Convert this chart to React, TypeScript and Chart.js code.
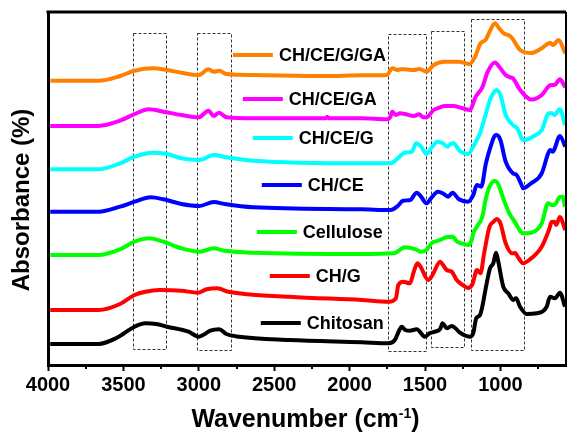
import React, { useEffect, useRef } from 'react';
import { Chart, registerables } from 'chart.js';

Chart.register(...registerables);

const FONT = "Arial, 'Liberation Sans', sans-serif";

// Wavenumber (cm-1) and absorbance (arbitrary, offset) for each spectrum
const chitosanWn = [3985, 3665, 3546, 3426, 3354, 3283, 3211, 3068, 3001, 2972, 2924, 2865, 2817, 2733, 2399, 1920, 1741, 1700, 1670, 1655, 1630, 1600, 1555, 1500, 1470, 1434, 1400, 1383, 1356, 1323, 1300, 1268, 1202, 1180, 1160, 1135, 1091, 1069, 1047, 1029, 1014, 981, 948, 914, 896, 870, 825, 759, 693, 671, 638, 605, 572];
const chitosanAbs = [21, 21, 27, 38.3, 41.7, 41, 38.3, 33.3, 28.3, 30, 34.3, 35.7, 31, 28.3, 25, 22.7, 21.7, 25, 35, 38.3, 35, 34.3, 35.7, 28.3, 31.7, 33.3, 36, 41.7, 36.7, 39, 37, 32.3, 28.3, 32, 46.7, 50, 81.7, 96.7, 101.7, 112.3, 103.3, 78.3, 71.7, 65, 66.7, 58.3, 51, 51.7, 58.3, 68.3, 66.7, 72.3, 58.3];

const chgWn = [3985, 3665, 3522, 3426, 3354, 3259, 3116, 3008, 2948, 2877, 2805, 2399, 1920, 1741, 1693, 1677, 1644, 1600, 1575, 1550, 1530, 1478, 1450, 1400, 1380, 1356, 1323, 1290, 1250, 1215, 1185, 1156, 1132, 1108, 1072, 1045, 1025, 1000, 965, 922, 903, 880, 850, 809, 726, 678, 660, 642, 630, 606, 570];
const chgAbs = [55, 55, 61, 70, 73.3, 75, 74.3, 72.3, 75.7, 76.7, 73.3, 68.3, 65, 63.3, 66.7, 80, 83.3, 81.7, 93, 101.7, 98.3, 85, 90, 103.3, 100, 95, 93.3, 85, 80, 77, 81, 95, 91.7, 111.7, 138.3, 143.3, 146, 141.7, 121.7, 111.7, 112, 107, 101.7, 105, 118.3, 135, 143, 143.3, 140, 148, 135];

const celluloseWn = [3985, 3665, 3522, 3426, 3331, 3235, 3116, 2996, 2901, 2829, 2638, 1920, 1705, 1634, 1562, 1525, 1490, 1455, 1420, 1390, 1360, 1315, 1287, 1240, 1215, 1190, 1180, 1156, 1120, 1096, 1072, 1041, 1025, 1012, 977, 941, 905, 857, 848, 797, 726, 684, 660, 642, 606, 587, 572];
const celluloseAbs = [110, 110, 115.7, 123.3, 126.7, 123.3, 116.7, 113.3, 116.7, 114.3, 112.3, 111, 111.7, 117.7, 115.7, 113.3, 115, 122, 124, 125.7, 127.7, 128.3, 123.3, 121, 120, 125, 131.7, 138.3, 148.3, 166.7, 178.3, 184, 183.3, 180, 165, 151.7, 143.3, 132, 131.7, 132.3, 141.7, 161.7, 160, 160, 168, 168.3, 158.3];

const chceWn = [3985, 3665, 3522, 3426, 3319, 3235, 3116, 2996, 2901, 2829, 2638, 1920, 1729, 1681, 1646, 1598, 1555, 1526, 1490, 1455, 1414, 1382, 1347, 1318, 1275, 1215, 1180, 1156, 1127, 1096, 1065, 1036, 1025, 1000, 965, 917, 893, 857, 850, 797, 726, 683, 670, 654, 605, 570];
const chceAbs = [153.3, 153.3, 158.3, 163.3, 167.7, 165.7, 161, 159, 163, 161, 157.7, 155.7, 155, 159, 164.3, 165, 172.3, 168.3, 161.7, 167.7, 173.3, 171.7, 168.3, 172.3, 165.7, 163.3, 170, 180, 178.3, 201.7, 218.3, 229.5, 230, 225, 203.3, 191.7, 190, 179, 176.7, 181.7, 191.7, 211.7, 215, 213.3, 229, 218.3];

const chcegWn = [3985, 3665, 3522, 3426, 3307, 3211, 3116, 2996, 2901, 2817, 2638, 1920, 1729, 1681, 1634, 1586, 1560, 1526, 1490, 1455, 1418, 1382, 1350, 1330, 1311, 1270, 1215, 1180, 1157, 1135, 1096, 1065, 1036, 1025, 1000, 965, 917, 888, 850, 843, 785, 726, 678, 660, 642, 605, 572];
const chcegAbs = [195.7, 195.7, 201.7, 208.3, 212.3, 211, 206.7, 205, 210, 207.7, 204.3, 201.7, 201.7, 206.7, 212.3, 213.3, 221.7, 218.3, 211, 217.7, 223.3, 221.7, 218.3, 221, 221.7, 214.3, 211, 218.3, 225, 231.7, 251.7, 266.7, 274, 275, 270, 250, 240, 236.7, 225, 225, 228.3, 235, 251.7, 251.7, 250, 255.7, 240];

const chcegaWn = [3985, 3665, 3522, 3426, 3331, 3235, 3116, 3001, 2936, 2901, 2865, 2817, 2638, 2160, 2148, 2135, 1920, 1753, 1729, 1717, 1693, 1666, 1634, 1574, 1538, 1511, 1490, 1443, 1400, 1370, 1313, 1251, 1202, 1180, 1169, 1156, 1120, 1084, 1036, 1008, 965, 936, 917, 869, 793, 726, 678, 660, 642, 605, 570];
const chcegaAbs = [239, 239, 244.3, 251, 255.7, 253.3, 250, 247.7, 254.3, 249, 252.3, 247.7, 246.7, 246.7, 248.3, 246.7, 246.7, 245.7, 248.3, 253.3, 250, 251.7, 251, 249, 250.7, 247.7, 247.7, 255, 257.7, 259, 259, 256.7, 255, 261.7, 266.7, 270, 277.7, 293.3, 302.5, 298.3, 290, 287.7, 286.7, 275, 265.5, 270, 279, 280, 280, 285.7, 277.7];

const chceggaWn = [3985, 3665, 3522, 3426, 3307, 3211, 3116, 3001, 2936, 2901, 2865, 2817, 2638, 2160, 1920, 1753, 1717, 1681, 1666, 1634, 1574, 1538, 1490, 1443, 1370, 1275, 1204, 1168, 1132, 1116, 1096, 1072, 1036, 1008, 977, 936, 917, 869, 797, 726, 670, 650, 615, 570];
const chceggaAbs = [284.3, 284.3, 289, 294.3, 296.7, 295, 292.3, 290, 295.7, 293.3, 294.3, 291, 290, 289, 289.7, 290, 296.7, 295, 295.7, 295.7, 295, 296, 293.3, 300, 303.3, 303.3, 301, 308.3, 321.7, 323.3, 325.7, 333.3, 341.7, 336.7, 331.7, 329, 325.7, 315, 312, 316.7, 322.3, 320, 325, 311.7];

const seriesLabels = ['Chitosan', 'CH/G', 'Cellulose', 'CH/CE', 'CH/CE/G', 'CH/CE/GA', 'CH/CE/G/GA'];
const seriesColors = ['#000000', '#FF0000', '#00FF00', '#0000FF', '#00FFFF', '#FF00FF', '#FF8000'];
const seriesWn = [chitosanWn, chgWn, celluloseWn, chceWn, chcegWn, chcegaWn, chceggaWn];
const seriesAbs = [chitosanAbs, chgAbs, celluloseAbs, chceAbs, chcegAbs, chcegaAbs, chceggaAbs];

// In-plot legend anchors (wavenumber at line start, absorbance level)
const legendWn = [2589, 2529, 2615, 2582, 2642, 2708, 2774];
const legendAbs = [42, 89, 133, 180, 227, 266, 310];

// Dashed band regions (wavenumber from / to, absorbance bottom / top)
const bandFrom = [3436, 3012, 1746, 1462, 1197];
const bandTo = [3219, 2789, 1494, 1241, 843];
const bandBottom = [16, 15, 14, 18, 15];
const bandTop = [332, 332, 331, 334, 346];

const xMajorTicks = [4000, 3500, 3000, 2500, 2000, 1500, 1000];
const xMinorTicks = [3750, 3250, 2750, 2250, 1750, 1250, 750];

const decor = {
  id: 'decor',
  beforeDatasetsDraw(chart: any) {
    const { ctx } = chart;
    const xs = chart.scales.x;
    const ys = chart.scales.y;
    ctx.save();
    ctx.strokeStyle = '#333';
    ctx.lineWidth = 1;
    ctx.setLineDash([3, 2]);
    for (let i = 0; i < bandFrom.length; i++) {
      const x1 = Math.round(xs.getPixelForValue(bandFrom[i])) + 0.5;
      const x2 = Math.round(xs.getPixelForValue(bandTo[i])) + 0.5;
      const y1 = Math.round(ys.getPixelForValue(bandTop[i])) + 0.5;
      const y2 = Math.round(ys.getPixelForValue(bandBottom[i])) + 0.5;
      ctx.strokeRect(x1, y1, x2 - x1, y2 - y1);
    }
    ctx.restore();
  },
  afterDraw(chart: any) {
    const { ctx, chartArea } = chart;
    const xs = chart.scales.x;
    const ys = chart.scales.y;
    ctx.save();
    // frame top and right
    ctx.strokeStyle = '#000';
    ctx.lineWidth = 3;
    ctx.beginPath();
    ctx.moveTo(chartArea.left - 1.5, chartArea.top);
    ctx.lineTo(chartArea.right, chartArea.top);
    ctx.stroke();
    ctx.lineWidth = 2;
    ctx.beginPath();
    ctx.moveTo(chartArea.right, chartArea.top);
    ctx.lineTo(chartArea.right, chartArea.bottom);
    ctx.stroke();
    // minor ticks
    ctx.lineWidth = 2;
    for (const v of xMinorTicks) {
      const px = Math.round(xs.getPixelForValue(v));
      ctx.beginPath();
      ctx.moveTo(px, chartArea.bottom);
      ctx.lineTo(px, chartArea.bottom + 4);
      ctx.stroke();
    }
    // legend
    ctx.font = `bold 18px ${FONT}`;
    ctx.textBaseline = 'middle';
    ctx.textAlign = 'left';
    for (let i = 0; i < seriesLabels.length; i++) {
      const x0 = xs.getPixelForValue(legendWn[i]);
      const y0 = ys.getPixelForValue(legendAbs[i]);
      ctx.strokeStyle = seriesColors[i];
      ctx.lineWidth = 4;
      ctx.beginPath();
      ctx.moveTo(x0, y0);
      ctx.lineTo(x0 + 40, y0);
      ctx.stroke();
      ctx.fillStyle = '#000';
      ctx.fillText(seriesLabels[i], x0 + 46, y0 + 1);
    }
    // y title
    ctx.fillStyle = '#000';
    ctx.font = `bold 24px ${FONT}`;
    ctx.save();
    ctx.translate(22, 200);
    ctx.rotate(-Math.PI / 2);
    ctx.textAlign = 'center';
    ctx.textBaseline = 'middle';
    ctx.fillText('Absorbance (%)', 0, 0);
    ctx.restore();
    // x title with superscript
    const main = 'Wavenumber (cm';
    const sup = '-1';
    const tail = ')';
    ctx.textAlign = 'left';
    ctx.textBaseline = 'alphabetic';
    ctx.font = `bold 25px ${FONT}`;
    const w1 = ctx.measureText(main).width;
    const w3 = ctx.measureText(tail).width;
    ctx.font = `bold 14px ${FONT}`;
    const w2 = ctx.measureText(sup).width;
    const total = w1 + w2 + w3;
    let sx = 305.5 - total / 2;
    const base = 427;
    ctx.font = `bold 25px ${FONT}`;
    ctx.fillText(main, sx, base);
    sx += w1;
    ctx.font = `bold 14px ${FONT}`;
    ctx.fillText(sup, sx, base - 9);
    sx += w2;
    ctx.font = `bold 25px ${FONT}`;
    ctx.fillText(tail, sx, base);
    ctx.restore();
  },
};

export default function App() {
  const ref = useRef<HTMLCanvasElement>(null);
  useEffect(() => {
    const canvas = ref.current;
    if (!canvas) return;
    const chart = new Chart(canvas, {
      type: 'line',
      data: {
        datasets: seriesLabels.map((label, i) => ({
          label,
          data: seriesWn[i].map((x, j) => ({ x, y: seriesAbs[i][j] })),
          borderColor: seriesColors[i],
          backgroundColor: seriesColors[i],
          borderWidth: 4,
          pointRadius: 0,
          cubicInterpolationMode: 'monotone' as const,
          fill: false,
        })),
      },
      options: {
        responsive: false,
        animation: false,
        events: [],
        layout: { padding: { top: 12, right: 1, left: 0, bottom: 0 } },
        plugins: { legend: { display: false }, tooltip: { enabled: false } },
        scales: {
          x: {
            type: 'linear',
            reverse: true,
            min: 565,
            max: 4000,
            afterFit: (s: any) => {
              s.height = 69;
            },
            afterBuildTicks: (s: any) => {
              s.ticks = xMajorTicks.map((v) => ({ value: v }));
            },
            ticks: {
              autoSkip: false,
              maxRotation: 0,
              padding: 2,
              color: '#000',
              font: { family: FONT, size: 20, weight: 'bold' },
              callback: (v: any) => String(v),
            },
            grid: { drawOnChartArea: false, tickLength: 6, tickWidth: 2, tickColor: '#000' },
            border: { color: '#000', width: 3 },
          },
          y: {
            min: 0,
            max: 353,
            afterFit: (s: any) => {
              s.width = 48;
            },
            ticks: { display: false },
            grid: { display: false },
            border: { color: '#000', width: 3 },
          },
        },
      },
      plugins: [decor],
    });
    return () => chart.destroy();
  }, []);
  return (
    <div style={{ position: 'fixed', left: 0, top: 0, width: 567, height: 434, background: '#fff' }}>
      <canvas ref={ref} width={567} height={434} style={{ display: 'block', width: 567, height: 434 }} />
    </div>
  );
}
